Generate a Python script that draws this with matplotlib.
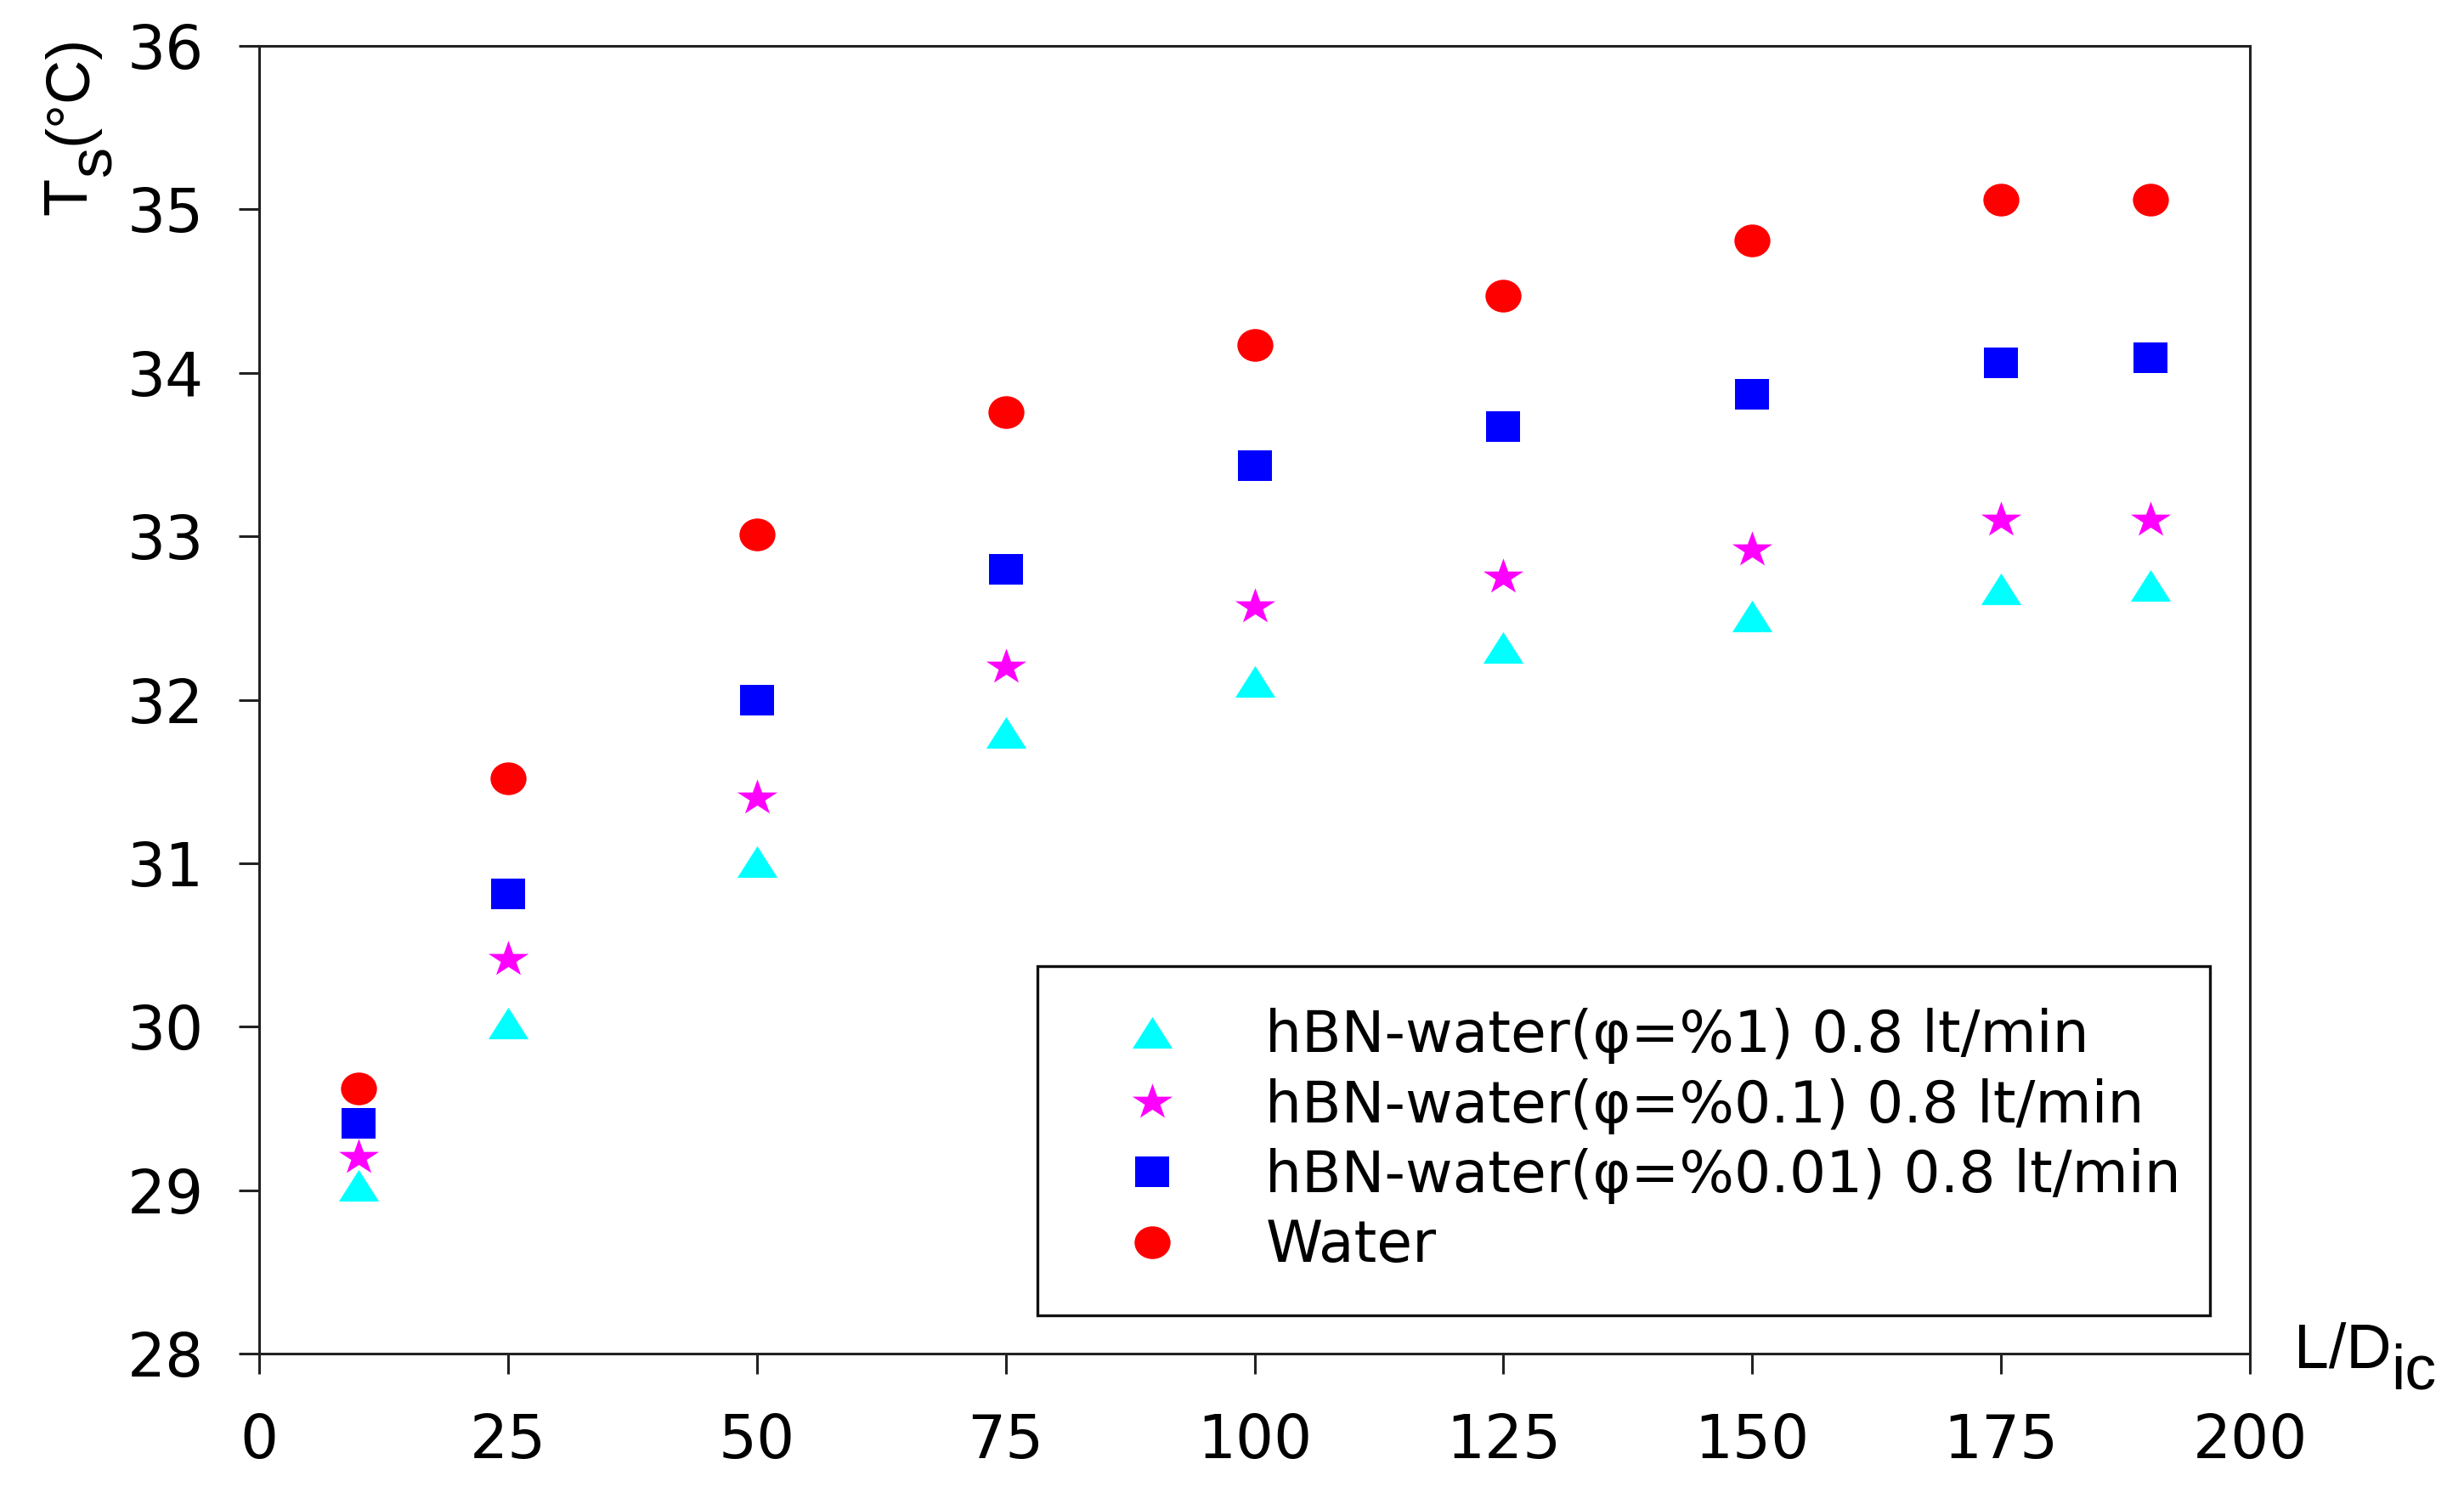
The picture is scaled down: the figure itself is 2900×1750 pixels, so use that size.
import matplotlib.pyplot as plt
from matplotlib.markers import MarkerStyle
from matplotlib.transforms import Affine2D

plt.rcParams['font.family'] = ['Liberation Sans', 'DejaVu Sans']

ld = [10, 25, 50, 75, 100, 125, 150, 175, 190]
ts_phi1 = [29.03, 30.02, 31.01, 31.80, 32.11, 32.32, 32.51, 32.68, 32.70]
ts_phi01 = [29.20, 30.41, 31.40, 32.20, 32.57, 32.75, 32.92, 33.10, 33.10]
ts_phi001 = [29.41, 30.81, 32.00, 32.80, 33.43, 33.67, 33.87, 34.06, 34.09]
ts_water = [29.62, 31.52, 33.01, 33.76, 34.17, 34.47, 34.81, 35.06, 35.06]

labels = ['hBN-water(φ=%1) 0.8 lt/min',
          'hBN-water(φ=%0.1) 0.8 lt/min',
          'hBN-water(φ=%0.01) 0.8 lt/min',
          'Water']
xticks = list(range(0, 201, 25))
yticks = list(range(28, 37))


def wide(m, sx):
    # the original figure is a bit stretched sideways, markers too
    st = MarkerStyle(m)
    p = st.get_path().transformed(st.get_transform())
    return p.transformed(Affine2D().scale(sx, 1.0))


fig = plt.figure(figsize=(29, 17.5), dpi=100)
ax = fig.add_axes([0.1052, 0.0897, 0.8079, 0.8794])

ax.plot(ld, ts_phi1, linestyle='none', marker=wide('^', 1.27), ms=34, color='#00FFFF', mew=0, label=labels[0])
ax.plot(ld, ts_phi01, linestyle='none', marker=wide('*', 1.12), ms=34, color='#FF00FF', mew=0, label=labels[1])
ax.plot(ld, ts_phi001, linestyle='none', marker=wide('s', 1.14), ms=29.5, color='#0000FF', mew=0, label=labels[2])
ax.plot(ld, ts_water, linestyle='none', marker=wide('o', 1.1), ms=30.5, color='#FF0000', mew=0, label=labels[3])

ax.set_xlim(0, 200)
ax.set_ylim(28, 36)
ax.set_xticks(xticks)
ax.set_yticks(yticks)
ax.tick_params(axis='both', direction='out', length=17, width=2.2, color='#222222',
               labelsize=51, labelfontfamily='DejaVu Sans')
ax.tick_params(axis='y', pad=30)
ax.tick_params(axis='x', pad=33)
for s in ax.spines.values():
    s.set_linewidth(2.2)
    s.set_color('#222222')

# x label with full-size lowered subscript
ax.set_xlabel('L/D', fontsize=53)
ax.xaxis.set_label_coords(1.0222, -0.011)
ax.xaxis.label.set_ha('left')
ax.xaxis.label.set_va('baseline')
ax.annotate('ic', xy=(1, 0), xycoords=ax.xaxis.label, xytext=(0, -18),
            textcoords='offset points', ha='left', va='bottom', fontsize=53)

# y label, rotated, pieces so the subscript stays big
t1 = ax.text(-0.0807, 0.8707, 'T', transform=ax.transAxes, rotation=90,
             rotation_mode='anchor', ha='left', va='bottom', fontsize=52)
t2 = ax.annotate('s', xy=(1, 1), xycoords=t1, xytext=(21, 1), textcoords='offset points',
                 rotation=90, rotation_mode='anchor', ha='left', va='bottom', fontsize=52)
ax.annotate('(°C)', xy=(1, 1), xycoords=t2, xytext=(-21, 1), textcoords='offset points',
            rotation=90, rotation_mode='anchor', ha='left', va='bottom', fontsize=52)

leg = ax.legend(loc='upper left', bbox_to_anchor=(0.391, 0.028, 0.589, 0.268), mode='expand',
                prop={'family': 'DejaVu Sans', 'size': 49},
                frameon=True, fancybox=False, borderpad=0.72, labelspacing=0.24,
                handlelength=2.52, handletextpad=0.7, borderaxespad=0)
leg.get_frame().set_edgecolor('#111111')
leg.get_frame().set_linewidth(2.4)
leg.get_frame().set_alpha(1)

fig.savefig('out.png', dpi=100)
